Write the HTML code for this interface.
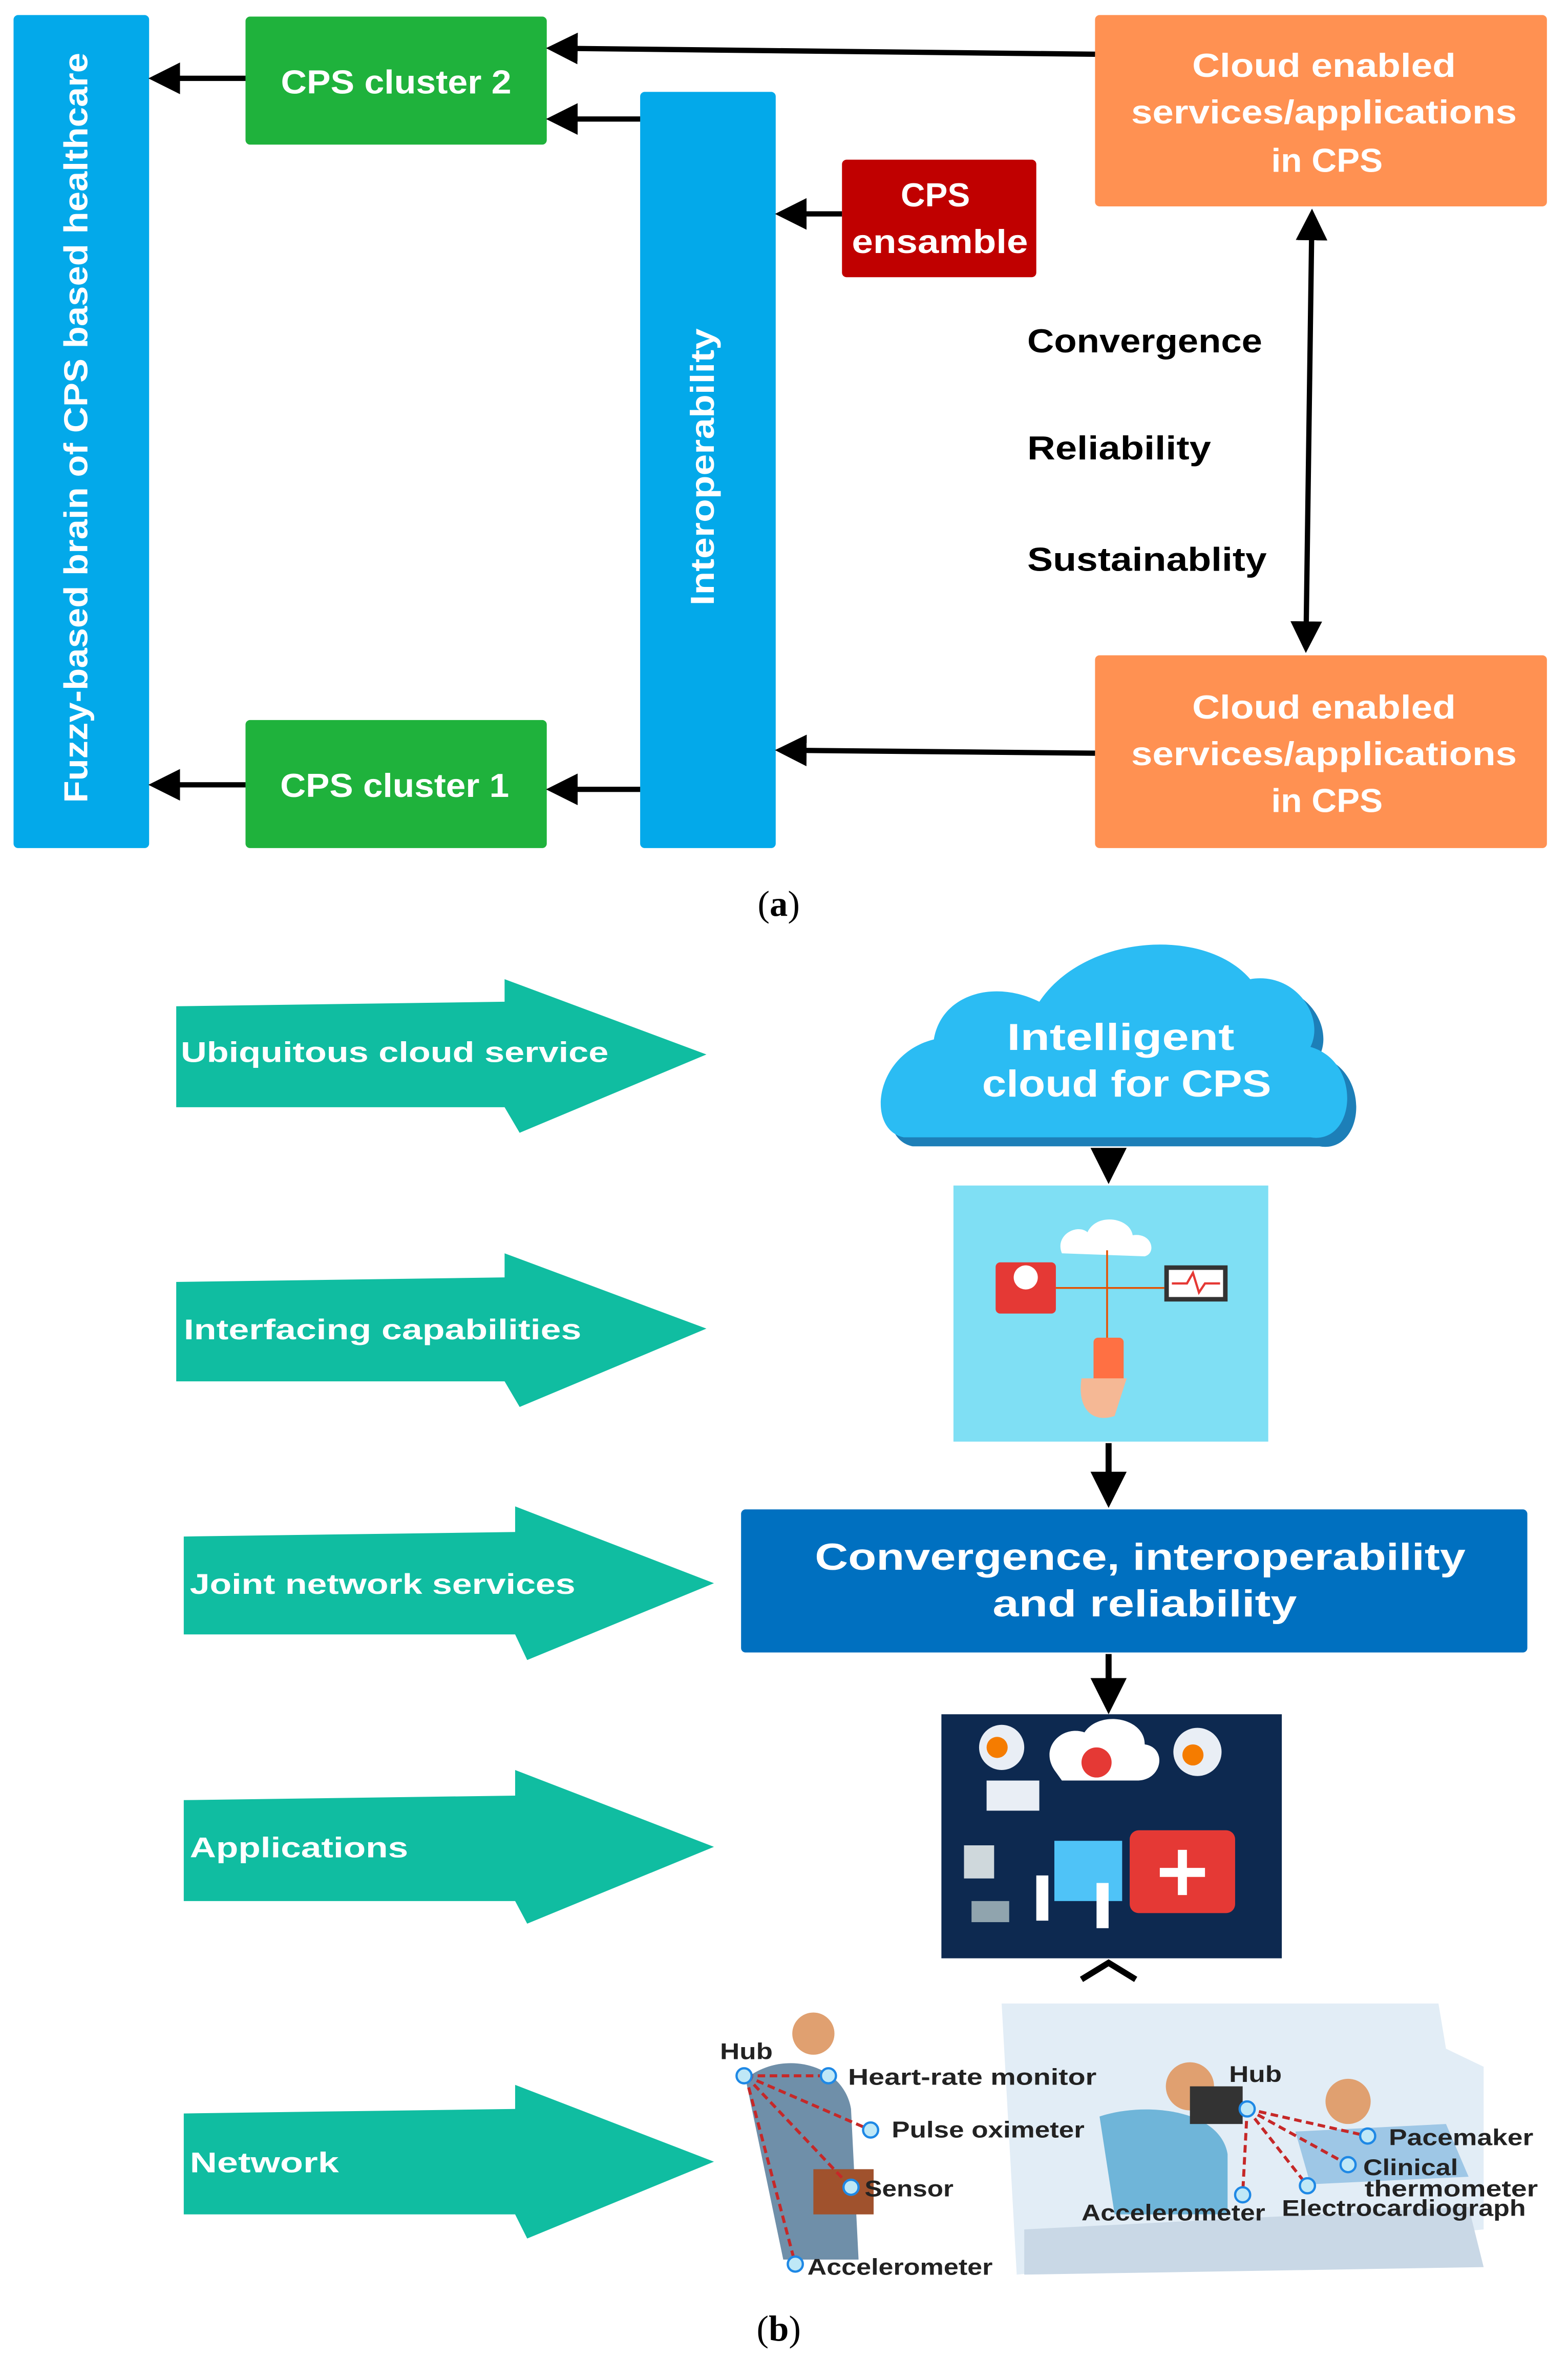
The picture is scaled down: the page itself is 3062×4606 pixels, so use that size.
<!DOCTYPE html>
<html><head><meta charset="utf-8"><style>
html,body{margin:0;padding:0;background:#fff;}
svg{display:block;}
.s{font-family:"Liberation Sans",sans-serif;font-weight:bold;}
.r{font-family:"Liberation Serif",serif;}
</style></head><body>
<svg width="3062" height="4606" viewBox="0 0 1041 1566" preserveAspectRatio="none" xmlns="http://www.w3.org/2000/svg">
<defs>
<marker id="ah" markerWidth="6" markerHeight="6" refX="5" refY="3" orient="auto" markerUnits="strokeWidth">
<path d="M0,0 L6,3 L0,6 Z" fill="#000"/></marker>
<marker id="ah2" markerWidth="6" markerHeight="6" refX="1" refY="3" orient="auto" markerUnits="strokeWidth">
<path d="M6,0 L0,3 L6,6 Z" fill="#000"/></marker>
</defs>
<rect width="1041" height="1566" fill="#fff"/>
<g class="s">
<rect x="9" y="10" width="90" height="553" rx="3" fill="#03a9ea"/>
<text transform="translate(58,284) rotate(-90)" text-anchor="middle" font-size="22" fill="#fff" textLength="498" lengthAdjust="spacingAndGlyphs">Fuzzy-based brain of CPS based healthcare</text>
<rect x="163" y="11" width="200" height="85" rx="3" fill="#1fb23c"/>
<text x="263" y="62" text-anchor="middle" font-size="22" fill="#fff" textLength="153" lengthAdjust="spacingAndGlyphs">CPS cluster 2</text>
<rect x="163" y="478" width="200" height="85" rx="3" fill="#1fb23c"/>
<text x="262" y="529" text-anchor="middle" font-size="22" fill="#fff" textLength="152" lengthAdjust="spacingAndGlyphs">CPS cluster 1</text>
<rect x="425" y="61" width="90" height="502" rx="3" fill="#03a9ea"/>
<text transform="translate(474,310) rotate(-90)" text-anchor="middle" font-size="22" fill="#fff" textLength="184" lengthAdjust="spacingAndGlyphs">Interoperability</text>
<rect x="559" y="106" width="129" height="78" rx="3" fill="#c00000"/>
<text x="621" y="137" text-anchor="middle" font-size="22" fill="#fff" textLength="46" lengthAdjust="spacingAndGlyphs">CPS</text>
<text x="624" y="168" text-anchor="middle" font-size="22" fill="#fff" textLength="117" lengthAdjust="spacingAndGlyphs">ensamble</text>
<rect x="727" y="10" width="300" height="127" rx="3" fill="#ff9152"/>
<text x="879" y="51" text-anchor="middle" font-size="22" fill="#fff" textLength="175" lengthAdjust="spacingAndGlyphs">Cloud enabled</text>
<text x="879" y="82" text-anchor="middle" font-size="22" fill="#fff" textLength="256" lengthAdjust="spacingAndGlyphs">services/applications</text>
<text x="881" y="114" text-anchor="middle" font-size="22" fill="#fff" textLength="74" lengthAdjust="spacingAndGlyphs">in CPS</text>
<rect x="727" y="435" width="300" height="128" rx="3" fill="#ff9152"/>
<text x="879" y="477" text-anchor="middle" font-size="22" fill="#fff" textLength="175" lengthAdjust="spacingAndGlyphs">Cloud enabled</text>
<text x="879" y="508" text-anchor="middle" font-size="22" fill="#fff" textLength="256" lengthAdjust="spacingAndGlyphs">services/applications</text>
<text x="881" y="539" text-anchor="middle" font-size="22" fill="#fff" textLength="74" lengthAdjust="spacingAndGlyphs">in CPS</text>
</g>
<g stroke="#000" stroke-width="3.5" fill="none">
<line x1="727" y1="36" x2="366" y2="32" marker-end="url(#ah)"/>
<line x1="425" y1="79" x2="366" y2="79" marker-end="url(#ah)"/>
<line x1="163" y1="52" x2="102" y2="52" marker-end="url(#ah)"/>
<line x1="559" y1="142" x2="518" y2="142" marker-end="url(#ah)"/>
<line x1="163" y1="521" x2="102" y2="521" marker-end="url(#ah)"/>
<line x1="425" y1="524" x2="366" y2="524" marker-end="url(#ah)"/>
<line x1="727" y1="500" x2="518" y2="498" marker-end="url(#ah)"/>
<line x1="871" y1="142" x2="867" y2="430" marker-end="url(#ah)" marker-start="url(#ah2)"/>
</g>
<g class="s" font-size="22" fill="#000">
<text x="682" y="234" textLength="156" lengthAdjust="spacingAndGlyphs">Convergence</text>
<text x="682" y="305" textLength="122" lengthAdjust="spacingAndGlyphs">Reliability</text>
<text x="682" y="379" textLength="159" lengthAdjust="spacingAndGlyphs">Sustainablity</text>
</g>
<text class="r" x="517" y="608" text-anchor="middle" font-size="24" fill="#000">(<tspan font-weight="bold">a</tspan>)</text>

<g fill="#10bda1">
<path d="M117,668 L335,665 L335,650 L469,700 L345,752 L335,735 L117,735 Z"/>
<path d="M117,851 L335,848 L335,832 L469,882 L345,934 L335,917 L117,917 Z"/>
<path d="M122,1020 L342,1017 L342,1000 L474,1051 L350,1102 L342,1085 L122,1085 Z"/>
<path d="M122,1195 L342,1192 L342,1175 L474,1226 L350,1277 L342,1262 L122,1262 Z"/>
<path d="M122,1403 L342,1400 L342,1384 L474,1435 L350,1486 L342,1470 L122,1470 Z"/>
</g>
<g class="s" fill="#fff" font-size="19">
<text x="120" y="705" textLength="284" lengthAdjust="spacingAndGlyphs">Ubiquitous cloud service</text>
<text x="122" y="889" textLength="264" lengthAdjust="spacingAndGlyphs">Interfacing capabilities</text>
<text x="126" y="1058" textLength="256" lengthAdjust="spacingAndGlyphs">Joint network services</text>
<text x="126" y="1233" textLength="145" lengthAdjust="spacingAndGlyphs">Applications</text>
<text x="126" y="1442" textLength="99" lengthAdjust="spacingAndGlyphs">Network</text>
</g>
<g fill="#1d7fb8" transform="translate(6,6)">
<path d="M600,755 C575,750 580,700 620,690 C625,660 660,650 690,665 C720,620 800,615 830,650 C860,645 880,675 870,695 C905,705 900,760 870,755 Z"/>
</g>
<path d="M600,755 C575,750 580,700 620,690 C625,660 660,650 690,665 C720,620 800,615 830,650 C860,645 880,675 870,695 C905,705 900,760 870,755 Z" fill="#2bbcf3"/>
<g class="s" font-size="25" fill="#fff">
<text x="744" y="697" text-anchor="middle" textLength="151" lengthAdjust="spacingAndGlyphs">Intelligent</text>
<text x="748" y="728" text-anchor="middle" textLength="192" lengthAdjust="spacingAndGlyphs">cloud for CPS</text>
</g>
<g stroke="#000" stroke-width="4" fill="none">
<line x1="736" y1="766" x2="736" y2="782" marker-end="url(#ah)"/>
<line x1="736" y1="958" x2="736" y2="997" marker-end="url(#ah)"/>
<line x1="736" y1="1098" x2="736" y2="1134" marker-end="url(#ah)"/>
<path d="M718,1314 L736,1303 L754,1314" stroke-width="4"/>
</g>
<rect x="633" y="787" width="209" height="170" fill="#7fdff4"/>
<g>
<path d="M705,832 C700,820 715,812 722,818 C728,805 750,808 752,820 C765,818 768,832 760,834 Z" fill="#fff"/>
<rect x="661" y="838" width="40" height="34" rx="3" fill="#e53935"/>
<circle cx="681" cy="848" r="8" fill="#fff"/>
<rect x="773" y="840" width="42" height="24" fill="#333"/><rect x="776" y="843" width="36" height="18" fill="#fff"/>
<path d="M778,852 L788,852 L792,845 L796,858 L800,852 L810,852" stroke="#e53935" fill="none" stroke-width="1.5"/>
<path d="M701,855 L735,855 L735,830 M735,855 L773,855 M735,855 L735,890" stroke="#e65100" fill="none" stroke-width="1.2"/>
<rect x="726" y="888" width="20" height="32" rx="3" fill="#ff7043"/>
<path d="M718,915 C715,935 725,945 740,940 L748,915 Z" fill="#f5b895"/>
</g>
<rect x="492" y="1002" width="522" height="95" rx="3" fill="#0070c0"/>
<g class="s" font-size="25" fill="#fff">
<text x="757" y="1042" text-anchor="middle" textLength="432" lengthAdjust="spacingAndGlyphs">Convergence, interoperability</text>
<text x="760" y="1073" text-anchor="middle" textLength="202" lengthAdjust="spacingAndGlyphs">and reliability</text>
</g>
<rect x="625" y="1138" width="226" height="162" fill="#0d2950"/>
<g>
<path d="M700,1175 C690,1160 705,1145 720,1150 C730,1135 760,1140 760,1158 C775,1160 772,1182 755,1182 L705,1182 Z" fill="#fff"/>
<circle cx="728" cy="1170" r="10" fill="#e53935"/>
<circle cx="665" cy="1160" r="15" fill="#e9eef5"/><circle cx="662" cy="1160" r="7" fill="#f57c00"/>
<circle cx="795" cy="1163" r="16" fill="#e9eef5"/><circle cx="792" cy="1165" r="7" fill="#f57c00"/>
<rect x="750" y="1215" width="70" height="55" rx="6" fill="#e53935"/>
<path d="M785,1228 L785,1258 M770,1243 L800,1243" stroke="#fff" stroke-width="6"/>
<rect x="700" y="1222" width="45" height="40" fill="#4fc3f7"/>
<rect x="655" y="1182" width="35" height="20" fill="#e9eef5"/>
<rect x="640" y="1225" width="20" height="22" fill="#cfd8dc"/>
<rect x="645" y="1262" width="25" height="14" fill="#90a4ae"/>
<rect x="688" y="1245" width="8" height="30" fill="#fff"/>
<rect x="728" y="1250" width="8" height="30" fill="#fff"/>
</g>
<g>
<path d="M665,1330 L955,1330 L960,1360 L985,1372 L985,1480 L675,1510 Z" fill="#dbe8f4" opacity="0.8"/>
<path d="M495,1380 C520,1360 560,1370 565,1400 L570,1500 L520,1500 Z" fill="#6f8fa9"/>
<circle cx="540" cy="1350" r="14" fill="#e0a070"/>
<rect x="540" y="1440" width="40" height="30" fill="#a0522d"/>
<circle cx="790" cy="1385" r="16" fill="#e0a070"/>
<path d="M730,1405 C760,1395 810,1400 815,1430 L815,1470 L740,1470 Z" fill="#6fb5d9"/>
<circle cx="895" cy="1395" r="15" fill="#e0a070"/>
<path d="M860,1415 L960,1410 L975,1445 L870,1450 Z" fill="#9ec7e6"/>
<rect x="790" y="1385" width="35" height="25" fill="#333"/>
<path d="M680,1480 L975,1465 L985,1505 L680,1510 Z" fill="#c9d8e6"/>
</g>
<g stroke="#c62828" stroke-width="2" stroke-dasharray="5,3" fill="none">
<path d="M495,1378 L550,1378 M495,1378 L578,1414 M495,1378 L565,1452 M495,1378 L528,1503"/>
<path d="M828,1400 L908,1418 M828,1400 L895,1437 M828,1400 L868,1451 M828,1400 L825,1457"/>
</g>
<g fill="#bfe8f7" stroke="#1e88e5" stroke-width="1.5">
<circle cx="494" cy="1378" r="5"/><circle cx="550" cy="1378" r="5"/><circle cx="578" cy="1414" r="5"/>
<circle cx="565" cy="1452" r="5"/><circle cx="528" cy="1503" r="5"/><circle cx="828" cy="1400" r="5"/>
<circle cx="908" cy="1418" r="5"/><circle cx="895" cy="1437" r="5"/><circle cx="868" cy="1451" r="5"/><circle cx="825" cy="1457" r="5"/>
</g>
<g class="s" font-size="15" fill="#222">
<text x="478" y="1367" textLength="35" lengthAdjust="spacingAndGlyphs">Hub</text>
<text x="563" y="1384" textLength="165" lengthAdjust="spacingAndGlyphs">Heart-rate monitor</text>
<text x="592" y="1419" textLength="128" lengthAdjust="spacingAndGlyphs">Pulse oximeter</text>
<text x="574" y="1458" textLength="59" lengthAdjust="spacingAndGlyphs">Sensor</text>
<text x="536" y="1510" textLength="123" lengthAdjust="spacingAndGlyphs">Accelerometer</text>
<text x="816" y="1382" textLength="35" lengthAdjust="spacingAndGlyphs">Hub</text>
<text x="922" y="1424" textLength="96" lengthAdjust="spacingAndGlyphs">Pacemaker</text>
<text x="905" y="1444" textLength="63" lengthAdjust="spacingAndGlyphs">Clinical</text>
<text x="906" y="1458" textLength="115" lengthAdjust="spacingAndGlyphs">thermometer</text>
<text x="718" y="1474" textLength="122" lengthAdjust="spacingAndGlyphs">Accelerometer</text>
<text x="851" y="1471" textLength="162" lengthAdjust="spacingAndGlyphs">Electrocardiograph</text>
</g>
<text class="r" x="517" y="1554" text-anchor="middle" font-size="24" fill="#000">(<tspan font-weight="bold">b</tspan>)</text>
</svg>
</body></html>
